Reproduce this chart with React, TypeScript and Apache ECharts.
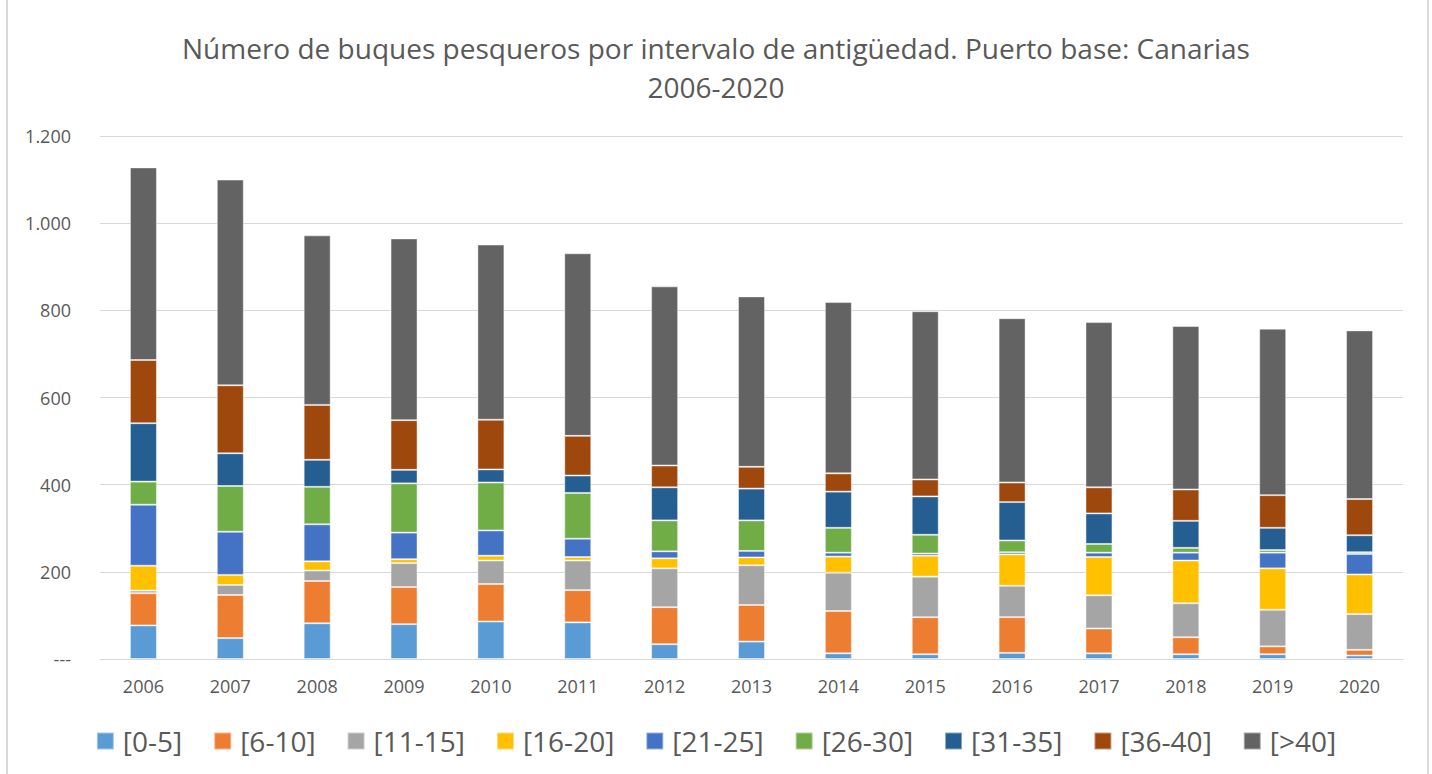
import React, { useEffect, useRef } from "react";
import * as echarts from "echarts";

const years = ["2006","2007","2008","2009","2010","2011","2012","2013","2014","2015","2016","2017","2018","2019","2020"];
const seriesNames = ["[0-5]","[6-10]","[11-15]","[16-20]","[21-25]","[26-30]","[31-35]","[36-40]","[>40]"];
const colors = ["#5B9BD5","#ED7D31","#A5A5A5","#FFC000","#4472C4","#70AD47","#255E91","#9E480E","#636363"];

const age0_5 = [77,48,82,80,86,84,34,40,13,11,14,13,11,11,8];
const age6_10 = [74,99,97,85,86,74,85,84,97,85,82,57,39,18,13];
const age11_15 = [6,23,24,55,54,68,89,91,88,93,72,76,78,84,82];
const age16_20 = [57,23,21,9,11,8,23,18,37,48,72,88,98,95,91];
const age21_25 = [140,99,85,61,58,42,16,15,9,5,5,10,18,36,47];
const age26_30 = [53,105,86,113,110,105,71,70,57,43,27,20,11,6,4];
const age31_35 = [134,75,62,31,30,40,76,73,83,88,88,70,62,51,39];
const age36_40 = [145,156,126,114,114,91,50,50,42,39,45,60,72,75,83];
const ageOver40 = [442,472,389,417,402,419,411,391,393,386,377,379,375,382,387];

const seriesData = [age0_5, age6_10, age11_15, age16_20, age21_25, age26_30, age31_35, age36_40, ageOver40];

const FONT = "'Open Sans', sans-serif";
const TEXT = "#595959";

export default function App() {
  const ref = useRef<HTMLDivElement>(null);
  useEffect(() => {
    document.body.style.margin = "0";
    const chart = echarts.init(ref.current!, null, { renderer: "svg" });
    chart.setOption({
      animation: false,
      backgroundColor: "#ffffff",
      color: colors,
      title: {
        text: "Número de buques pesqueros por intervalo de antigüedad. Puerto base: Canarias\n2006-2020",
        left: "center",
        top: 23,
        textStyle: { fontFamily: FONT, fontSize: 28, fontWeight: "normal", color: TEXT, lineHeight: 39, align: "center" },
      },
      grid: { left: 100, right: 29, top: 136, bottom: 115, containLabel: false },
      legend: {
        bottom: 14,
        left: "center",
        itemWidth: 17,
        itemHeight: 17,
        itemGap: 31,
        icon: "rect",
        textStyle: { fontFamily: FONT, fontSize: 28, color: TEXT, padding: [0, 0, 0, 4] },
        data: seriesNames,
      },
      xAxis: {
        type: "category",
        data: years,
        axisLine: { lineStyle: { color: "#D9D9D9", width: 1 } },
        axisTick: { show: false },
        axisLabel: { fontFamily: FONT, fontSize: 18, color: TEXT, margin: 18 },
      },
      yAxis: {
        type: "value",
        min: 0,
        max: 1200,
        interval: 200,
        axisLine: { show: false },
        axisTick: { show: false },
        splitLine: { lineStyle: { color: "#D9D9D9", width: 1 } },
        axisLabel: {
          fontFamily: FONT,
          fontSize: 18,
          color: TEXT,
          margin: 29,
          formatter: (v: number) => (v === 0 ? "---" : v.toLocaleString("de-DE")),
        },
      },
      series: seriesNames.map((name, i) => ({
        name,
        type: "bar",
        stack: "total",
        barWidth: 27,
        data: seriesData[i],
        itemStyle: { color: colors[i], borderColor: "rgba(255,255,255,0.45)", borderWidth: 1 },
      })),
      graphic: [
        {
          type: "rect",
          shape: { x: 7, y: -10, width: 1421, height: 800 },
          style: { fill: "none", stroke: "#D9D9D9", lineWidth: 2 },
          silent: true,
        },
      ],
    });
    return () => chart.dispose();
  }, []);
  return <div ref={ref} style={{ position: "fixed", left: 0, top: 0, width: 1432, height: 774 }} />;
}
